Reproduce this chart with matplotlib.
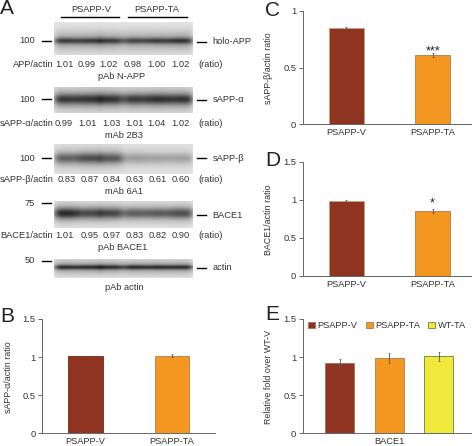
import numpy as np
import matplotlib
matplotlib.use("Agg")
import matplotlib.pyplot as plt

W = 477
H = 446

groups = ['PSAPP-V', 'PSAPP-TA']
b_vals = [1.01, 1.02]
b_err = [0.01, 0.015]
c_vals = [0.85, 0.61]
c_err = [0.01, 0.015]
d_vals = [0.98, 0.85]
d_err = [0.01, 0.025]
e_names = ['PSAPP-V', 'PSAPP-TA', 'WT-TA']
e_vals = [0.92, 0.99, 1.01]
e_err = [0.055, 0.07, 0.06]

# numbers under each blot
app_ratio = ['1.01', '0.99', '1.02', '0.98', '1.00', '1.02']
alpha_ratio = ['0.99', '1.01', '1.03', '1.01', '1.04', '1.02']
beta_ratio = ['0.83', '0.87', '0.84', '0.63', '0.61', '0.60']
bace_ratio = ['1.01', '0.95', '0.97', '0.83', '0.82', '0.90']

# how dark each lane looks, by eye
app_bands = [0.85, 0.85, 0.85, 0.8, 0.85, 0.9]
alpha_bands = [0.88, 0.9, 0.9, 0.86, 0.92, 0.9]
beta_bands = [0.66, 0.76, 0.7, 0.36, 0.34, 0.34]
bace_bands = [0.95, 0.8, 0.8, 0.68, 0.7, 0.76]
actin_bands = [0.95, 0.95, 0.95, 0.95, 0.95, 0.95]

brown = '#8f3420'
orange = '#f39720'
yellow = '#f0e93c'
txt = '#333333'

plt.rcParams['font.family'] = 'Liberation Sans'
plt.rcParams['font.size'] = 6.7
plt.rcParams['text.color'] = txt
plt.rcParams['axes.labelcolor'] = txt
plt.rcParams['xtick.labelcolor'] = txt
plt.rcParams['ytick.labelcolor'] = txt

fig = plt.figure(figsize=(W / 100, H / 100), dpi=100)

# overlay in pixel coordinates for the blot panel
pix = fig.add_axes([0, 0, 1, 1])
pix.set_xlim(0, W)
pix.set_ylim(H, 0)
pix.axis('off')


def blot(top, bottom, center, bands, sigma, smear):
    rows = np.arange(top, bottom, 0.5)
    cols = np.arange(54, 193, 0.5)
    lanes = [66, 89, 111, 135, 158, 181]
    img = np.zeros((len(rows), len(cols)))
    for lane, dark in zip(lanes, bands):
        across = np.exp(-((cols - lane) / 12.5) ** 4)
        down = 0.6 * np.exp(-((rows - center) / sigma) ** 2) + 0.4 * np.exp(-((rows - center) / smear) ** 2)
        img += dark * np.outer(down, across)
    img = 0.9 - 0.78 * np.clip(img, 0, 1)
    pix.imshow(img, cmap='gray', vmin=0, vmax=1, extent=[54, 193, bottom, top], aspect='auto', interpolation='bilinear')


blot(22.7, 55, 41, app_bands, 3, 10)
blot(87, 113, 99, alpha_bands, 5, 12)
blot(144, 174, 158, beta_bands, 5, 11)
blot(201, 228, 213, bace_bands, 5, 10)
blot(259, 278, 267, actin_bands, 2.2, 7)
pix.set_xlim(0, W)
pix.set_ylim(H, 0)

pix.plot([60.7, 119.3], [17.3, 17.3], color='black', lw=1)
pix.plot([128.3, 186.7], [17.3, 17.3], color='black', lw=1)
pix.text(90.7, 9, 'PSAPP-V', ha='center', va='center')
pix.text(157, 9, 'PSAPP-TA', ha='center', va='center')


def blot_labels(mw, mw_y, name, name_y, ratio_name, ratios, ratio_x, ratio_y, ab, ab_x, ab_y):
    pix.plot([41.7, 50.7], [mw_y, mw_y], color='black', lw=1)
    pix.plot([197.3, 206], [name_y, name_y], color='black', lw=1)
    pix.text(35, mw_y, mw, ha='right', va='center')
    pix.text(212.7, name_y, name, ha='left', va='center')
    pix.text(53.3, ratio_y, ratio_name, ha='right', va='center')
    for x, r in zip(ratio_x, ratios):
        pix.text(x / 3, ratio_y, r, ha='center', va='center')
    pix.text(210.7, ratio_y, '(ratio)', ha='center', va='center')
    pix.text(ab_x, ab_y, ab, ha='center', va='center')


blot_labels('100', 40.7, 'holo-APP', 41.7, 'APP/actin', app_ratio, [192, 260, 325, 398, 470, 542], 64.3, 'pAb N-APP', 121.7, 76.7)
blot_labels('100', 99, 'sAPP-\u03b1', 100, 'sAPP-\u03b1/actin', alpha_ratio, [192, 262, 335, 403, 470, 542], 123.3, 'mAb 2B3', 124, 135)
blot_labels('100', 158.3, 'sAPP-\u03b2', 158.3, 'sAPP-\u03b2/actin', beta_ratio, [200, 268, 335, 403, 473, 542], 180, 'mAb 6A1', 124, 191.7)
blot_labels('75', 203, 'BACE1', 215, 'BACE1/actin', bace_ratio, [192, 268, 335, 403, 473, 542], 236, 'pAb BACE1', 122.3, 248)
pix.plot([41.7, 50.7], [260.7, 260.7], color='black', lw=1)
pix.plot([197.3, 206], [268, 268], color='black', lw=1)
pix.text(35, 260.7, '50', ha='right', va='center')
pix.text(212.7, 268, 'actin', ha='left', va='center')
pix.text(124, 288, 'pAb actin', ha='center', va='center')

for letter, x, y in [('A', 0, 9), ('B', 0, 317), ('C', 265, 10), ('D', 265, 161), ('E', 265, 315)]:
    pix.text(x, y, letter, fontsize=15, color='#222222', ha='left', va='center')


def chart(left, right, top, bottom, ymax, yticks, ylabel, label_x):
    ax = fig.add_axes([left / W, 1 - bottom / H, (right - left) / W, (bottom - top) / H])
    ax.patch.set_alpha(0)
    ax.set_ylim(0, ymax)
    ax.set_yticks(yticks)
    ax.set_yticklabels([f'{t:g}' for t in yticks])
    for s in ['top', 'right']:
        ax.spines[s].set_visible(False)
    for s in ['left', 'bottom']:
        ax.spines[s].set_color('#666666')
        ax.spines[s].set_linewidth(0.7)
    ax.tick_params(axis='y', length=3, width=0.7, color='#666666', pad=2)
    ax.tick_params(axis='x', length=0, pad=3)
    pix.text(label_x, (top + bottom) / 2 + 0.5, ylabel, rotation=90, ha='center', va='center', fontsize=6.4)
    return ax


def two_bars(ax, vals, errs, edge_left, edge_right):
    ax.bar([0, 1], vals, width=0.4, color=[brown, orange], edgecolor=[edge_left, edge_right], linewidth=0.7,
           yerr=errs, error_kw={'ecolor': '#555555', 'elinewidth': 0.6, 'capsize': 1, 'capthick': 0.5})
    ax.set_xticks([0, 1])
    ax.set_xticklabels(groups)


ax_b = chart(42.5, 215, 319, 433.3, 1.5, [0, 0.5, 1, 1.5], 'sAPP-\u03b1/actin ratio', 9)
two_bars(ax_b, b_vals, b_err, '#7d3a28', '#b08a55')
ax_b.set_xlim(-0.5, 1.5)

ax_c = chart(303.3, 470.6, 10.7, 124.3, 1, [0, 0.5, 1], 'sAPP-\u03b2/actin ratio', 269)
two_bars(ax_c, c_vals, c_err, '#c9a080', '#b08a55')
ax_c.set_xlim(-0.5, 1.44)
ax_c.text(1, c_vals[1] + 0.035, '***', ha='center', va='center', fontsize=9, color='#222222')

ax_d = chart(303.3, 470.6, 161.7, 275.7, 1.5, [0, 0.5, 1, 1.5], 'BACE1/actin ratio', 269)
two_bars(ax_d, d_vals, d_err, '#c9a080', '#b08a55')
ax_d.set_xlim(-0.5, 1.44)
ax_d.text(1, d_vals[1] + 0.105, '*', ha='center', va='center', fontsize=9, color='#222222')

ax_e = chart(303.3, 470.6, 319, 433.3, 1.5, [0, 0.5, 1, 1.5], 'Relative fold over WT-V', 269)
e_colors = [brown, orange, yellow]
e_edges = ['#a07a60', '#b08a55', '#8a8a50']
for i in range(3):
    ax_e.bar(i - 1, e_vals[i], width=0.59, color=e_colors[i], edgecolor=e_edges[i], linewidth=0.7, label=e_names[i],
             yerr=e_err[i], error_kw={'ecolor': '#555555', 'elinewidth': 0.6, 'capsize': 1, 'capthick': 0.5})
ax_e.set_xlim(-1.73, 1.64)
ax_e.set_xticks([0])
ax_e.set_xticklabels(['BACE1'])
ax_e.legend(loc='upper left', bbox_to_anchor=(0.03, 0.98), ncol=3, frameon=False, handlelength=0.75, handleheight=0.75,
            handletextpad=0.25, columnspacing=0.9, borderpad=0, borderaxespad=0, fontsize=6.7)

fig.savefig('out.png', dpi=100)
